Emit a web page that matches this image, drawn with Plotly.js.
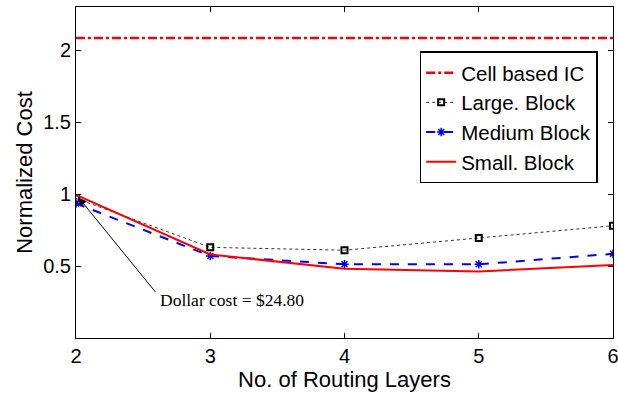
<!DOCTYPE html>
<html>
<head>
<meta charset="utf-8">
<script src="https://cdn.plot.ly/plotly-3.0.1.min.js"></script>
<style>html,body{margin:0;padding:0;background:#fff;}#chart{width:618px;height:393px;}</style>
</head>
<body>
<div id="chart"></div>
<script>
const layers = [2, 3, 4, 5, 6];
const cellBased = [2.085, 2.085, 2.085, 2.085, 2.085];
const largeBlock = [0.97, 0.63, 0.61, 0.695, 0.78];
const mediumBlock = [0.935, 0.57, 0.512, 0.512, 0.585];
const smallBlock = [0.995, 0.58, 0.482, 0.462, 0.507];
const yTicks = [0.5, 1, 1.5, 2];
const xTicks = [2, 3, 4, 5, 6];
const noteText = 'Dollar cost = $24.80';

const traces = [
  {x: layers, y: cellBased, name: 'Cell based IC', mode: 'lines',
   line: {color: '#ff0000', width: 2.5, dash: 'dashdot'}},
  {x: layers, y: largeBlock, name: 'Large. Block', mode: 'lines+markers',
   line: {color: '#333333', width: 1, dash: 'dot'},
   marker: {symbol: 'square-open', size: 6, color: '#000', line: {width: 2, color: '#000'}}},
  {x: layers, y: mediumBlock, name: 'Medium Block', mode: 'lines+markers',
   line: {color: '#0000ff', width: 2, dash: 'dash'},
   marker: {symbol: 'asterisk-open', size: 7, color: '#0000ff', line: {width: 1.5, color: '#0000ff'}}},
  {x: layers, y: smallBlock, name: 'Small. Block', mode: 'lines',
   line: {color: '#ff0000', width: 2}}
];

const axisCommon = {
  showline: true, linecolor: '#000', linewidth: 1, mirror: 'ticks',
  ticks: 'inside', ticklen: 5, tickcolor: '#000', tickwidth: 1,
  showgrid: false, zeroline: false, ticklabeloverflow: 'allow',
  tickfont: {family: 'Liberation Sans, Arial, sans-serif', size: 20, color: '#000'}
};

const layout = {
  width: 618, height: 393,
  margin: {l: 76, r: 5, t: 7, b: 55},
  paper_bgcolor: '#fff', plot_bgcolor: '#fff',
  showlegend: true,
  xaxis: Object.assign({}, axisCommon, {
    range: [2, 6], tickvals: xTicks,
    title: {text: 'No. of Routing Layers', standoff: 2,
            font: {family: 'Liberation Sans, Arial, sans-serif', size: 22, color: '#000'}}
  }),
  yaxis: Object.assign({}, axisCommon, {
    range: [0, 2.3], tickvals: yTicks, ticktext: ['0.5', '1', '1.5', '2'],
    title: {text: 'Normalized Cost', standoff: 4,
            font: {family: 'Liberation Sans, Arial, sans-serif', size: 22, color: '#000'}}
  }),
  legend: {
    x: 0.64, y: 0.866, xanchor: 'left', yanchor: 'top',
    bgcolor: '#fff', bordercolor: '#000', borderwidth: 1.5,
    font: {family: 'Liberation Sans, Arial, sans-serif', size: 20.5, color: '#000'},
    tracegroupgap: 0
  },
  annotations: [
    {x: 2.02, y: 0.975, xref: 'x', yref: 'y', text: '', showarrow: true,
     axref: 'x', ayref: 'y', ax: 2.6, ay: 0.31,
     arrowhead: 2, arrowsize: 1.6, arrowwidth: 1, arrowcolor: '#000'},
    {x: 3.165, y: 0.266, xref: 'x', yref: 'y', text: noteText, showarrow: false,
     font: {family: 'Liberation Serif, Times New Roman, serif', size: 17.5, color: '#000'}}
  ]
};

Plotly.newPlot('chart', traces, layout, {displayModeBar: false, staticPlot: true});
</script>
</body>
</html>
